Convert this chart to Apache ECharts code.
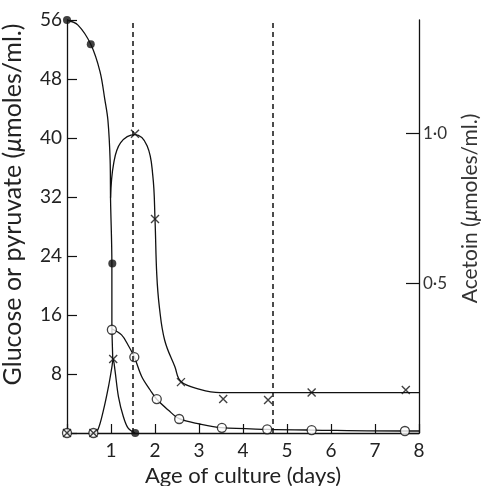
<!DOCTYPE html>
<html>
<head>
<meta charset="utf-8">
<script src="https://cdn.jsdelivr.net/npm/echarts@6/dist/echarts.min.js"></script>
<style>
  html, body { margin: 0; padding: 0; background: #fff; }
  #chart { width: 482px; height: 486px; }
</style>
</head>
<body>
<div id="chart"></div>
<script>
// Measured points (days of culture)
const glucoseDays = [0, 0.54, 1.03, 1.55];
const glucose = [56, 52.7, 23, 0];

const pyruvateDays = [0, 0.6, 1.02, 1.53, 2.04, 2.55, 3.52, 4.55, 5.56, 7.68];
const pyruvate = [0, 0, 14, 10.3, 4.6, 1.9, 0.7, 0.5, 0.4, 0.27];

const acetoinDays = [0, 0.6, 1.05, 1.545, 2.0, 2.59, 3.55, 4.57, 5.56, 7.7];
const acetoin = [0, 0, 0.247, 1.0, 0.715, 0.17, 0.114, 0.11, 0.135, 0.144];

// Hand-drawn fitted curves through the points
const glucoseCurveDays = [0, 0.25, 0.54, 0.75, 0.86, 0.93, 0.98, 0.99, 1.02, 1.02];
const glucoseCurve = [56, 55.3, 52.7, 49, 45.2, 42.4, 37, 31.6, 22.9, 14.1];

const pyruvateCurveDays = [1.04, 1.02, 1.24, 1.39, 1.53, 1.70, 1.89, 2.04, 2.30, 2.55, 3.02, 3.52, 4.55, 5.56, 7.68, 8];
const pyruvateCurve = [10, 14.1, 13.3, 11.9, 10.3, 7.63, 5.83, 4.57, 3.12, 1.94, 1.22, 0.72, 0.5, 0.4, 0.27, 0.27];

const acetoinEarlyDays = [0.6, 0.7, 0.83, 0.943, 1.02, 1.05, 1.09, 1.17, 1.28, 1.39, 1.55];
const acetoinEarly = [0, 0.01, 0.077, 0.155, 0.22, 0.247, 0.21, 0.121, 0.055, 0.016, 0];

const acetoinMainDays = [0.99, 1.06, 1.22, 1.545, 1.82, 1.95, 2.0, 2.04, 2.1, 2.22, 2.45, 2.59, 3.02, 3.48, 8];
const acetoinMain = [0.786, 0.9, 0.97, 0.997, 0.96, 0.86, 0.715, 0.53, 0.42, 0.31, 0.222, 0.172, 0.146, 0.135, 0.135];

// Phase boundaries (days)
const phaseLines = [1.5, 4.68];

// Tick values
const leftTicks = [8, 16, 24, 32, 40, 48, 56];
const rightTicks = [0.5, 1.0];
const dayTicks = [1, 2, 3, 4, 5, 6, 7, 8];

const zip = (xs, ys) => xs.map((x, i) => [x, ys[i]]);
const INK = '#111';
const FONT = 'Lato, "DejaVu Sans", sans-serif';
const crossPath = 'path://M0,0L10,10M10,0L0,10';

const curveStyle = { color: INK, width: 1.3 };

const chart = echarts.init(document.getElementById('chart'), null, { renderer: 'canvas' });
chart.setOption({
  backgroundColor: '#fff',
  animation: false,
  grid: { left: 67, right: 63, top: 20, bottom: 53, containLabel: false, outerBoundsMode: 'none' },
  xAxis: {
    type: 'value', min: 0, max: 8, interval: 1,
    name: 'Age of culture (days)', nameLocation: 'middle', nameGap: 29,
    nameTextStyle: { fontFamily: FONT, fontSize: 22, color: '#222' },
    axisLine: { lineStyle: { color: INK, width: 1.3 } },
    axisTick: { inside: true, length: 9, lineStyle: { color: INK, width: 1.2 } },
    axisLabel: {
      fontFamily: FONT, fontSize: 19, color: '#222', margin: 8,
      formatter: v => dayTicks.includes(v) ? String(v) : ''
    },
    splitLine: { show: false }
  },
  yAxis: [
    {
      type: 'value', min: 0, max: 56, interval: 8, position: 'left',
      name: '{t|Glucose or pyruvate (}{i|μ}{t|moles/ml.)}',
      nameLocation: 'middle', nameGap: 42, nameRotate: 90,
      nameTextStyle: {
        padding: [0, 0, 0, 44],
        rich: {
          t: { fontFamily: FONT, fontSize: 25, color: '#222' },
          i: { fontFamily: FONT, fontSize: 25, color: '#222', fontStyle: 'italic' }
        }
      },
      axisLine: { show: true, lineStyle: { color: INK, width: 1.3 } },
      axisTick: { inside: true, length: 10, lineStyle: { color: INK, width: 1.2 } },
      axisLabel: {
        fontFamily: FONT, fontSize: 19, color: '#222', margin: 5,
        formatter: v => leftTicks.includes(v) ? String(v) : ''
      },
      splitLine: { show: false }
    },
    {
      type: 'value', min: 0, max: 1.38, interval: 0.5, position: 'right',
      name: '{t|Acetoin (}{i|μ}{t|moles/ml.)}',
      nameLocation: 'middle', nameGap: 41, nameRotate: 90,
      nameTextStyle: {
        padding: [0, 0, 0, 36],
        rich: {
          t: { fontFamily: FONT, fontSize: 21, color: '#333' },
          i: { fontFamily: FONT, fontSize: 21, color: '#333', fontStyle: 'italic' }
        }
      },
      axisLine: { show: true, lineStyle: { color: INK, width: 1.3 } },
      axisTick: { inside: true, length: 13, lineStyle: { color: INK, width: 1.2 } },
      axisLabel: {
        fontFamily: FONT, fontSize: 17, color: '#333', margin: 4,
        showMaxLabel: false,
        formatter: v => rightTicks.some(t => Math.abs(t - v) < 1e-6) ? v.toFixed(1).replace('.', '·') : ''
      },
      splitLine: { show: false }
    }
  ],
  series: [
    {
      name: 'glucose curve', type: 'line', yAxisIndex: 0,
      data: zip(glucoseCurveDays, glucoseCurve), smooth: 0.35,
      showSymbol: false, lineStyle: curveStyle, z: 2,
      markLine: {
        silent: true, symbol: 'none', label: { show: false },
        lineStyle: { color: INK, width: 1.5, type: [5, 4] },
        data: phaseLines.map(d => ({ xAxis: d }))
      }
    },
    {
      name: 'pyruvate curve', type: 'line', yAxisIndex: 0,
      data: zip(pyruvateCurveDays, pyruvateCurve), smooth: 0.35,
      showSymbol: false, lineStyle: curveStyle, z: 2
    },
    {
      name: 'acetoin early', type: 'line', yAxisIndex: 1,
      data: zip(acetoinEarlyDays, acetoinEarly), smooth: 0.35,
      showSymbol: false, lineStyle: curveStyle, z: 2
    },
    {
      name: 'acetoin main', type: 'line', yAxisIndex: 1,
      data: zip(acetoinMainDays, acetoinMain), smooth: 0.4,
      showSymbol: false, lineStyle: curveStyle, z: 2
    },
    {
      name: 'Glucose', type: 'scatter', yAxisIndex: 0,
      data: zip(glucoseDays, glucose), symbol: 'circle', symbolSize: 8,
      itemStyle: { color: INK }, z: 5
    },
    {
      name: 'Pyruvate', type: 'scatter', yAxisIndex: 0,
      data: zip(pyruvateDays, pyruvate), symbol: 'circle', symbolSize: 9,
      itemStyle: { color: '#fff', borderColor: INK, borderWidth: 1.3 }, z: 4
    },
    {
      name: 'Acetoin', type: 'scatter', yAxisIndex: 1,
      data: zip(acetoinDays, acetoin), symbol: crossPath, symbolSize: 8,
      itemStyle: { color: 'none', borderColor: INK, borderWidth: 1.4 }, z: 6
    }
  ]
});
</script>
</body>
</html>
